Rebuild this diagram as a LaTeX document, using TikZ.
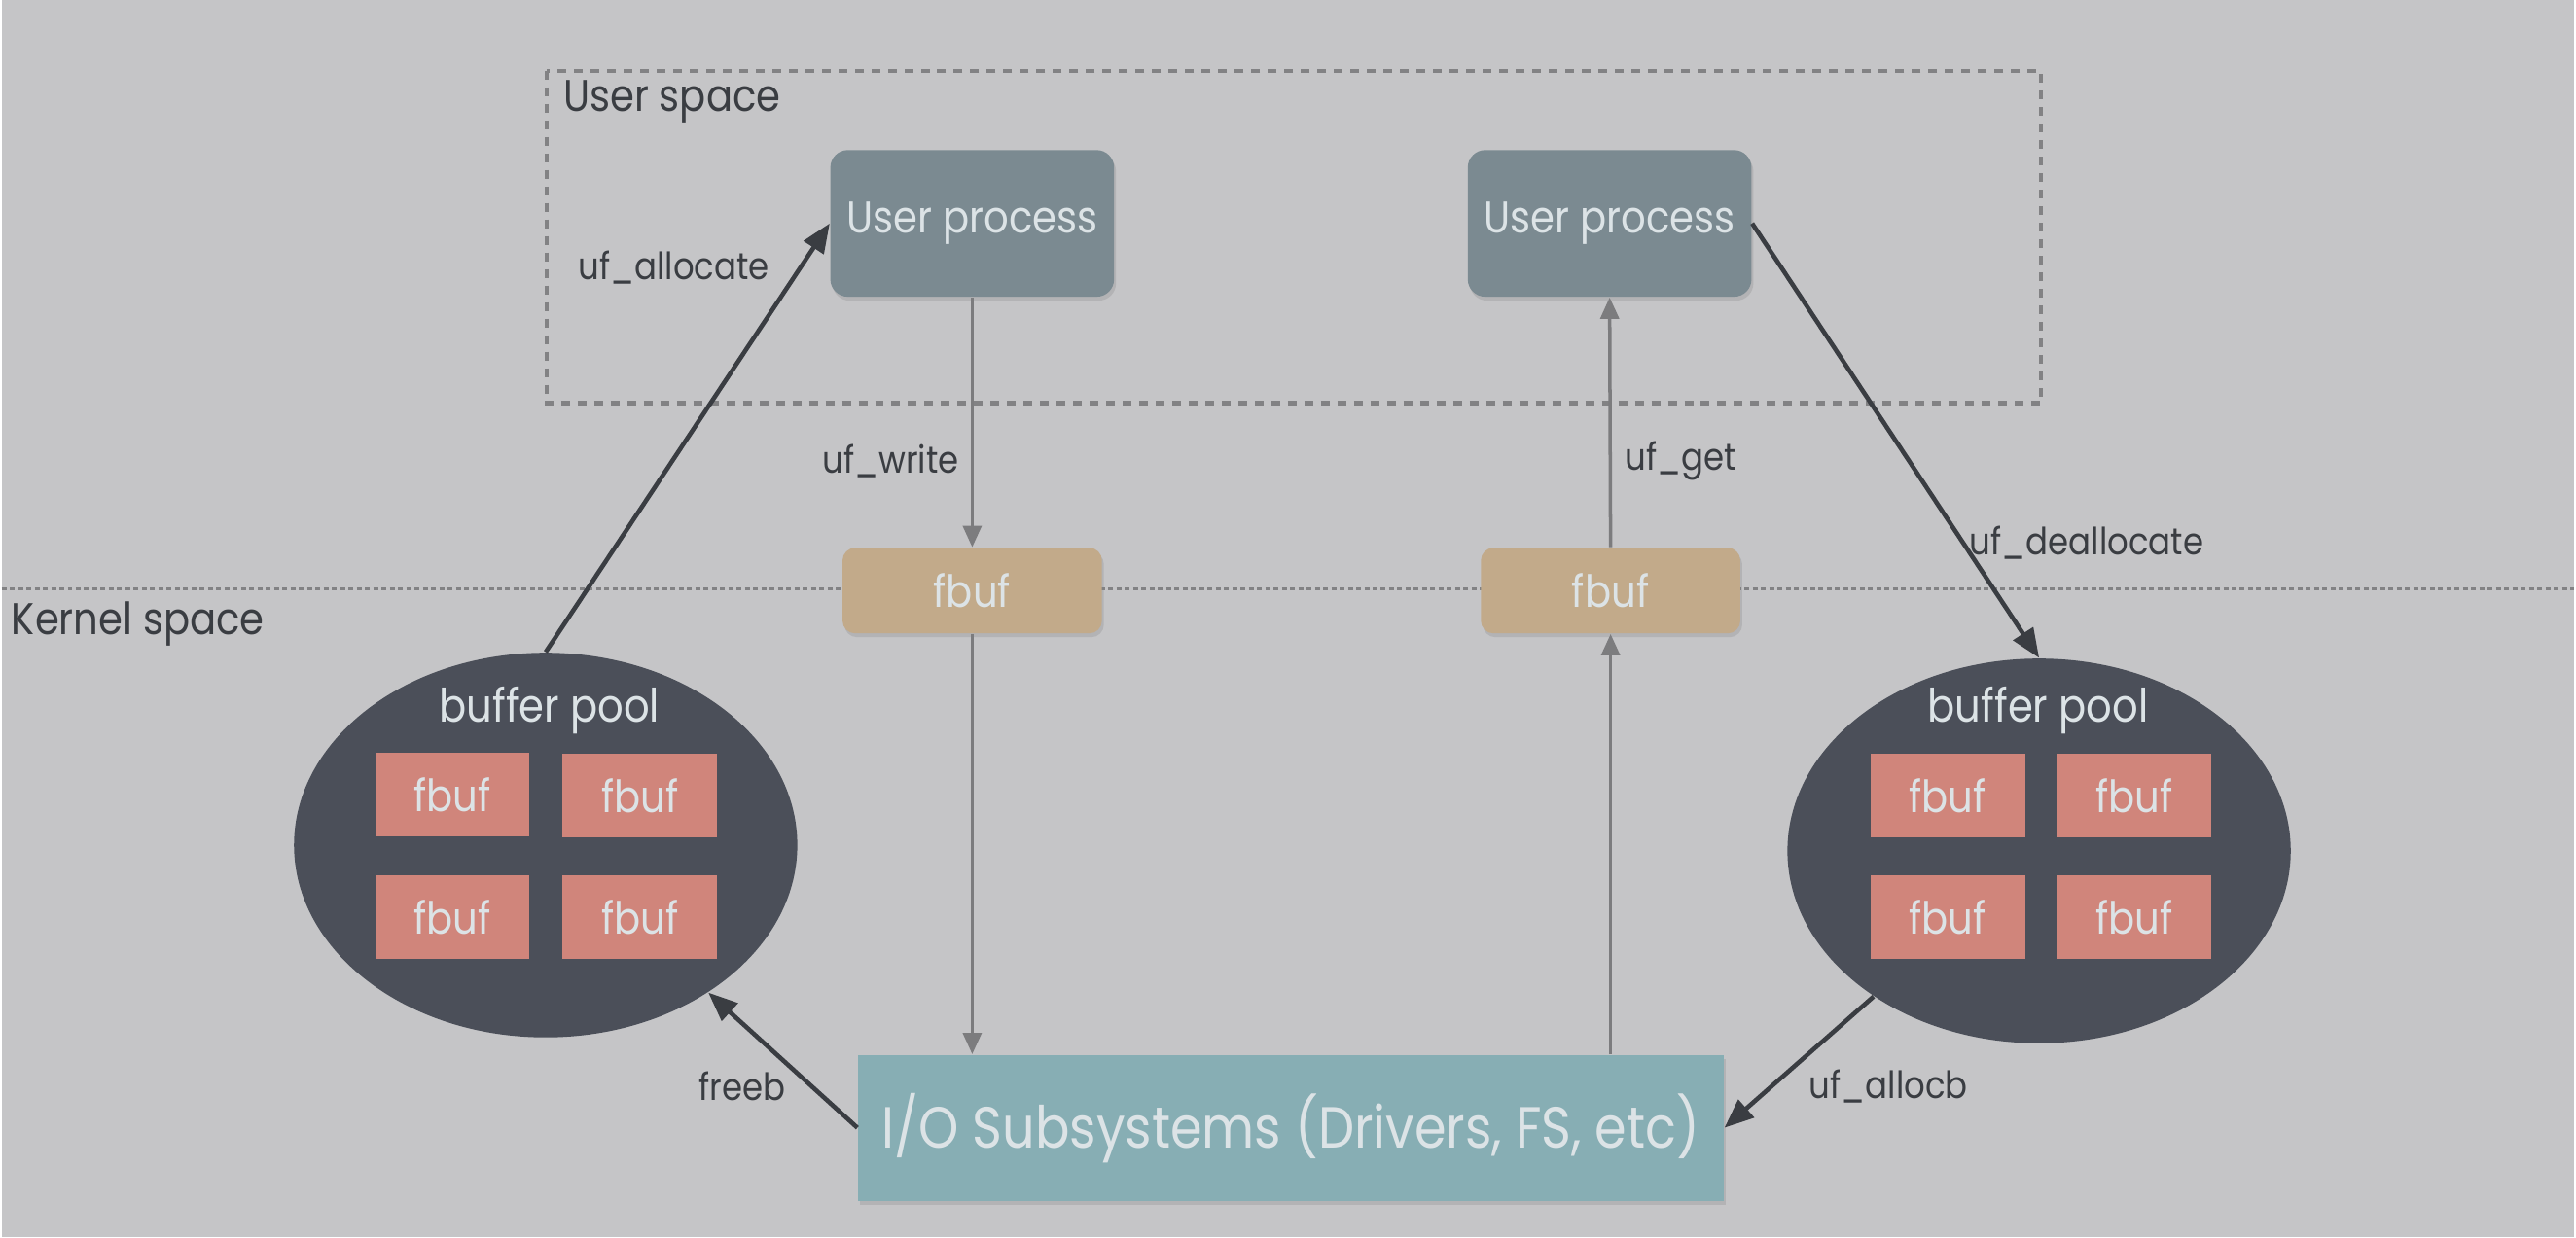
\documentclass[tikz,border=0pt]{standalone}
\usepackage{fontspec}
\setmainfont{Poppins}[FakeStretch=0.88]
\usetikzlibrary{shapes.geometric,arrows.meta,shadows}
\definecolor{bgcol}{HTML}{C5C5C7}
\definecolor{upcol}{HTML}{7B8A91}
\definecolor{tancol}{HTML}{C2AA8A}
\definecolor{poolcol}{HTML}{4B4F59}
\definecolor{cellcol}{HTML}{D0857B}
\definecolor{iocol}{HTML}{87AEB4}
\definecolor{inktxt}{HTML}{DCE3E6}
\definecolor{darkline}{HTML}{3A3D42}
\definecolor{grayline}{HTML}{7C7C7E}
\definecolor{dashcol}{HTML}{828284}

\begin{document}
\begin{tikzpicture}
[%%%%%%%%%%%%%%%%%%%%%%%%%%%%%%
x=1cm, y=-1cm,
upbox/.style={rectangle, rounded corners=0.18cm, fill=upcol, text=inktxt, minimum width=2.92cm, minimum height=1.51cm, font=\fontsize{13}{15}\selectfont, drop shadow={opacity=0.25, shadow xshift=0.02cm, shadow yshift=-0.04cm}},
midbuf/.style={rectangle, rounded corners=0.13cm, fill=tancol, text=inktxt, minimum width=2.67cm, minimum height=0.88cm, font=\fontsize{13}{15}\selectfont, drop shadow={opacity=0.25, shadow xshift=0.02cm, shadow yshift=-0.04cm}},
pool/.style={ellipse, fill=poolcol, minimum width=5.18cm, minimum height=3.96cm, inner sep=0pt},
cell/.style={rectangle, fill=cellcol, text=inktxt, minimum width=1.59cm, minimum height=0.86cm, font=\fontsize{13}{15}\selectfont},
iobox/.style={rectangle, fill=iocol, text=inktxt, minimum width=8.91cm, minimum height=1.50cm, font=\fontsize{17}{20}\selectfont, drop shadow={opacity=0.25, shadow xshift=0.02cm, shadow yshift=-0.04cm}},
pooltxt/.style={text=inktxt, font=\fontsize{13.5}{16}\selectfont},
lbl/.style={text=darkline, font=\fontsize{11}{13}\selectfont},
area/.style={text=darkline, font=\fontsize{13}{15}\selectfont, anchor=west},
darr/.style={draw=darkline, line width=1.3pt, -{Triangle[length=0.3cm, width=0.24cm]}},
garr/.style={draw=grayline, line width=1pt, -{Triangle[length=0.22cm, width=0.19cm]}},
ubox/.style={draw=dashcol, line width=1.2pt, dash pattern=on 0.09cm off 0.08cm},
kline/.style={draw=dashcol, line width=0.9pt, dash pattern=on 0.05cm off 0.035cm},
]%%%%%%%%%%%%%%%%%%%%%%%%%%%%%%

\fill[bgcol] (0,0) rectangle (26.48,12.74);

\draw[ubox] (5.61,0.73) rectangle (20.99,4.15);
\draw[kline] (0,6.06) -- (26.48,6.06);
\node[area] (uspace) at (5.66,1.05) {User space};
\node[area] (kspace) at (-0.02,6.42) {Kernel space};

\node[upbox] (up1) at (9.99,2.30) {User process};
\node[upbox] (up2) at (16.55,2.30) {User process};
\node[midbuf] (mb1) at (9.99,6.08) {fbuf};
\node[midbuf] (mb2) at (16.56,6.08) {fbuf};

\node[pool] (pl) at (5.60,8.70) {};
\node[pool] (pr) at (20.97,8.76) {};
\node[pooltxt] (plt) at (5.64,7.31) {buffer pool};
\node[pooltxt] (prt) at (20.96,7.31) {buffer pool};

\foreach \cx/\cy/\nm in {4.64/8.18/l11, 6.57/8.19/l12, 4.64/9.44/l21, 6.57/9.44/l22,
20.03/8.19/r11, 21.95/8.19/r12, 20.03/9.44/r21, 21.95/9.44/r22}
\node[cell] (\nm) at (\cx,\cy) {fbuf};

\node[iobox] (io) at (13.27,11.61) {I/O Subsystems (Drivers, FS, etc)};

\draw[darr] (pl.north) -- (up1.west);
\draw[darr] (up2.east) -- (pr.north);
\draw[darr] (io.west) -- (pl);
\draw[darr] (pr) -- (io.east);
\draw[garr] (up1.south) -- (mb1.north);
\draw[garr] (mb1.south) -- (mb1.south |- io.north);
\draw[garr] (mb2.south |- io.north) -- (mb2.south);
\draw[garr] (mb2.north) -- (up2.south);

\node[lbl] (lalloc) at (6.92,2.75) {uf\_allocate};
\node[lbl] (lwrite) at (9.15,4.75) {uf\_write};
\node[lbl] (lget) at (17.28,4.75) {uf\_get};
\node[lbl] (ldealloc) at (21.46,5.59) {uf\_deallocate};
\node[lbl] (lfree) at (7.62,11.18) {freeb};
\node[lbl] (lallocb) at (19.42,11.18) {uf\_allocb};
\end{tikzpicture}
\end{document}
